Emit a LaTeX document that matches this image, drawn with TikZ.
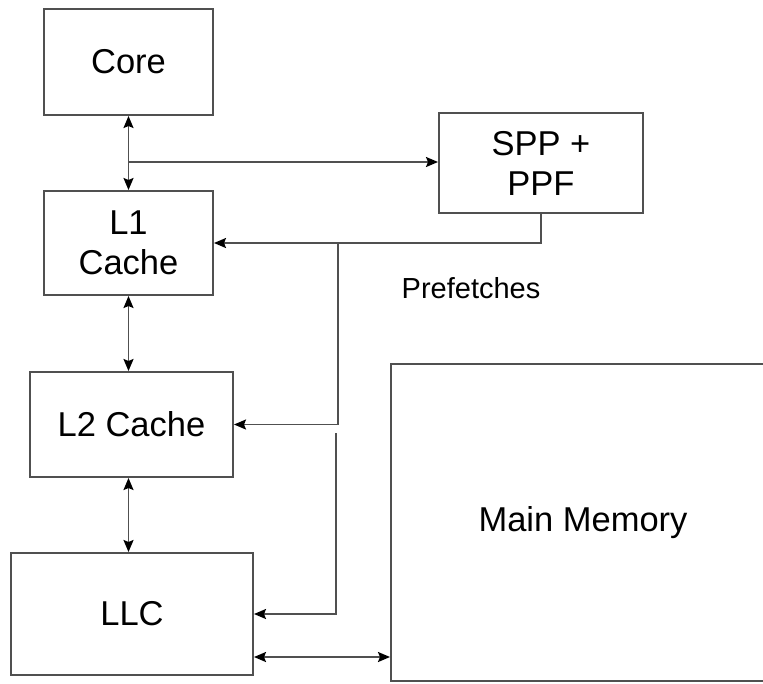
\documentclass[tikz,border=0pt]{standalone}
\usepackage{fontspec}
\setmainfont{Liberation Sans}
\usetikzlibrary{arrows.meta,calc}
\definecolor{edge}{HTML}{505050}
\tikzset{
  tip/.tip={Stealth[length=12pt,width=10pt,inset=2pt,black]},
  blk/.style={draw=edge, line width=2pt, rectangle, inner sep=0pt, align=center, font=\fontsize{34.5}{40}\selectfont},
  conn/.style={draw=edge, line width=1.9pt, arrows={-tip}},
  dconn/.style={draw=edge, line width=1.9pt, arrows={tip-tip}},
  lbl/.style={font=\fontsize{29}{34}\selectfont}
}
\begin{document}
\begin{tikzpicture}[x=1pt,y=-1pt]
\useasboundingbox (0,0) rectangle (763,683);
\node[blk, minimum width=169pt, minimum height=106pt] (core) at (128.5,62) {Core};
\node[blk, minimum width=169pt, minimum height=104pt] (l1) at (128.5,243) {L1\\Cache};
\node[blk, minimum width=203pt, minimum height=105pt] (l2) at (131.5,424.5) {L2 Cache};
\node[blk, minimum width=242pt, minimum height=122pt] (llc) at (132,614) {LLC};
\node[blk, minimum width=204pt, minimum height=100pt] (spp) at (541,163) {SPP +\\PPF};
\node[blk, minimum width=384pt, minimum height=317pt] (mm) at (583,522.5) {Main Memory};
\node[lbl] (pf) at (471,288) {Prefetches};
\coordinate (b) at (128.5,162);
\coordinate (j) at (338,243);
\coordinate (k) at (336,433);
\draw[dconn] (core.south) -- (l1.north);
\draw[conn] (b) -- (b -| spp.west);
\draw[conn] (spp.south) |- (l1.east);
\draw[conn] (j) |- (l2.east);
\draw[conn] (k) |- (llc.east);
\draw[dconn] (l1.south) -- (l1.south |- l2.north);
\draw[dconn] (l1.south |- l2.south) -- (l1.south |- llc.north);
\draw[dconn] ([yshift=-43pt]llc.east) -- ([yshift=-43pt]llc.east -| mm.west);
\end{tikzpicture}
\end{document}
